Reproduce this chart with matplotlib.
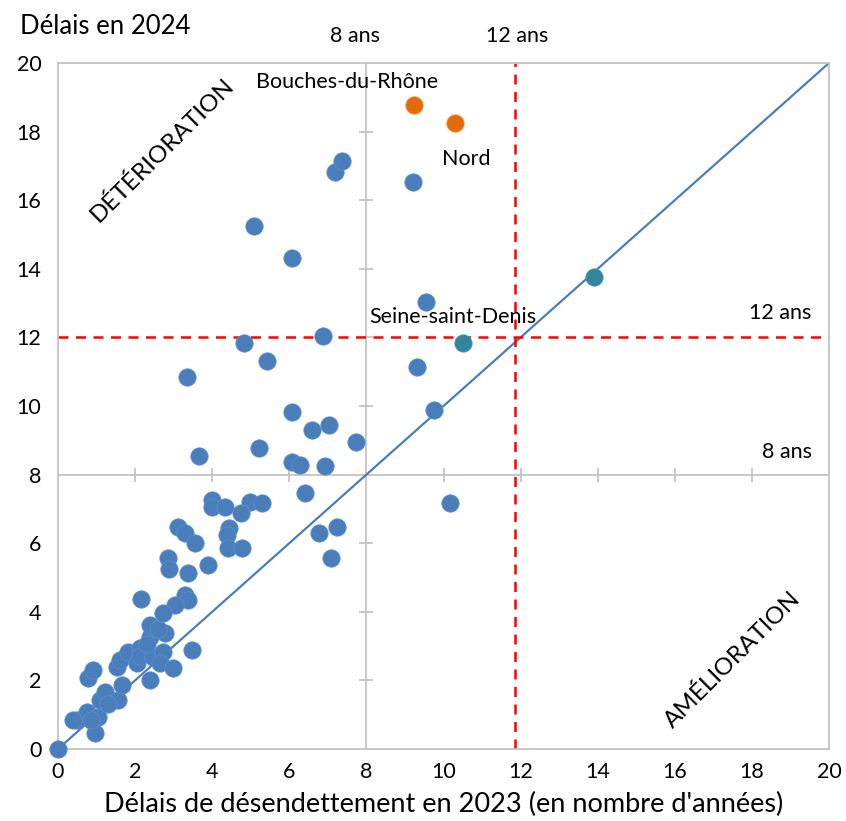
import matplotlib
matplotlib.use("Agg")
import matplotlib.pyplot as plt
import numpy as np

plt.rcParams['font.family'] = ['Lato', 'DejaVu Sans']

# departements, delais 2023 (x) / 2024 (y)
x_dep = [0.00, 0.49, 0.75, 0.96, 1.04, 0.78, 0.91, 1.09, 1.22, 1.56,
         1.66, 1.53, 1.60, 1.82, 2.05, 2.13, 2.13, 2.39, 2.39, 2.46,
         2.39, 2.72, 2.65, 2.78, 2.98, 3.48, 2.60, 2.30, 1.30, 0.85,
         0.39,
         3.11, 3.29, 3.55, 4.44, 4.38, 4.41, 4.77, 6.77, 7.24, 7.08,
         2.85, 2.88, 3.37, 3.89, 2.15, 3.29, 3.37, 3.04, 2.72,
         3.99, 3.99, 4.33, 4.98, 5.29, 4.75, 6.41, 10.17,
         3.66, 5.21, 6.07, 6.28, 6.93, 7.73, 6.59, 7.03, 6.07, 9.75,
         3.35, 5.42, 4.82, 6.87, 9.31, 9.55,
         6.07, 5.08, 9.21, 7.19, 7.37]
y_dep = [0.00, 0.85, 1.08, 0.47, 0.93, 2.07, 2.30, 1.43, 1.66, 1.43,
         1.87, 2.39, 2.60, 2.83, 2.51, 2.94, 2.70, 3.27, 3.62, 2.68,
         2.01, 2.83, 2.51, 3.38, 2.36, 2.89, 3.50, 3.05, 1.30, 0.85,
         0.85,
         6.47, 6.30, 6.01, 6.44, 6.24, 5.86, 5.86, 6.30, 6.47, 5.57,
         5.57, 5.25, 5.13, 5.36, 4.37, 4.49, 4.34, 4.20, 3.97,
         7.26, 7.06, 7.06, 7.20, 7.17, 6.88, 7.46, 7.17,
         8.54, 8.78, 8.37, 8.28, 8.25, 8.95, 9.30, 9.45, 9.83, 9.88,
         10.85, 11.31, 11.84, 12.04, 11.14, 13.03,
         14.31, 15.25, 16.53, 16.82, 17.14]

# departements mis en avant
x_orange = [9.23, 10.30]
y_orange = [18.78, 18.25]
x_teal = [10.51, 13.90]
y_teal = [11.84, 13.76]

ticks = [0, 2, 4, 6, 8, 10, 12, 14, 16, 18, 20]
seuil_x = 11.85
seuil_y = 12

blue = '#4a7ebb'
gray = '#bfbfbf'

fig = plt.figure(figsize=(8.46, 8.21), dpi=100)
ax = fig.add_axes([58/846, 72/821, 771/846, 686/821])

ax.set_xlim(0, 20)
ax.set_ylim(0, 20)
ax.set_xticks(ticks)
ax.set_yticks(ticks)
ax.tick_params(length=0, labelsize=15.5)
ax.tick_params(axis='x', pad=9)
ax.tick_params(axis='y', pad=12)
for s in ax.spines.values():
    s.set_color(gray)
    s.set_linewidth(1.2)

# axes qui se croisent a 8
ax.axhline(8, color=gray, lw=1.2, zorder=1)
ax.axvline(8, color=gray, lw=1.2, zorder=1)
tk = [t for t in ticks if t not in (0, 8, 20)]
ax.plot(tk, [8]*len(tk), ls='none', marker='|', ms=10, mew=1.2, color=gray, zorder=1)
ax.plot([8]*len(tk), tk, ls='none', marker='_', ms=10, mew=1.2, color=gray, zorder=1)

# diagonale et seuils
ax.plot([0, 20], [0, 20], color=blue, lw=1.6, zorder=2)
ax.axvline(seuil_x, color='#ff0000', lw=1.8, ls=(0, (4, 3)), zorder=2)
ax.axhline(seuil_y, color='#ff0000', lw=1.8, ls=(0, (4, 3)), zorder=2)

ax.scatter(x_dep, y_dep, s=155, color='#4a7ebb', edgecolors='#5b8ed0', linewidths=0.6, zorder=3, clip_on=False)
ax.scatter(x_orange, y_orange, s=155, color='#e36c09', edgecolors='#ef8a3a', linewidths=0.6, zorder=3)
ax.scatter(x_teal, y_teal, s=155, color='#31859c', edgecolors='#4a9ab0', linewidths=0.6, zorder=3)

fs = 15.5
ax.text(7.5, 19.45, 'Bouches-du-Rhône', fontsize=fs, ha='center', va='center')
ax.text(10.6, 17.2, 'Nord', fontsize=fs, ha='center', va='center')
ax.text(10.25, 12.6, 'Seine-saint-Denis', fontsize=fs, ha='center', va='center')
ax.text(19.55, 12.7, '12 ans', fontsize=fs, ha='right', va='center')
ax.text(19.55, 8.65, '8 ans', fontsize=fs, ha='right', va='center')
ax.text(7.7, 20.78, '8 ans', fontsize=fs, ha='center', va='center')
ax.text(11.9, 20.78, '12 ans', fontsize=fs, ha='center', va='center')
ax.text(2.7, 17.45, 'DÉTÉRIORATION', fontsize=17.5, rotation=45, ha='center', va='center')
ax.text(17.5, 2.6, 'AMÉLIORATION', fontsize=17.5, rotation=45, ha='center', va='center')

fig.text(20/846, 1 - 27/821, 'Délais en 2024', fontsize=18.5, ha='left', va='center')
fig.text(0.5 * (58 + 829) / 846, 1 - 804/821, "Délais de désendettement en 2023 (en nombre d'années)",
         fontsize=19.5, ha='center', va='center')

fig.savefig('out.png', dpi=100)
